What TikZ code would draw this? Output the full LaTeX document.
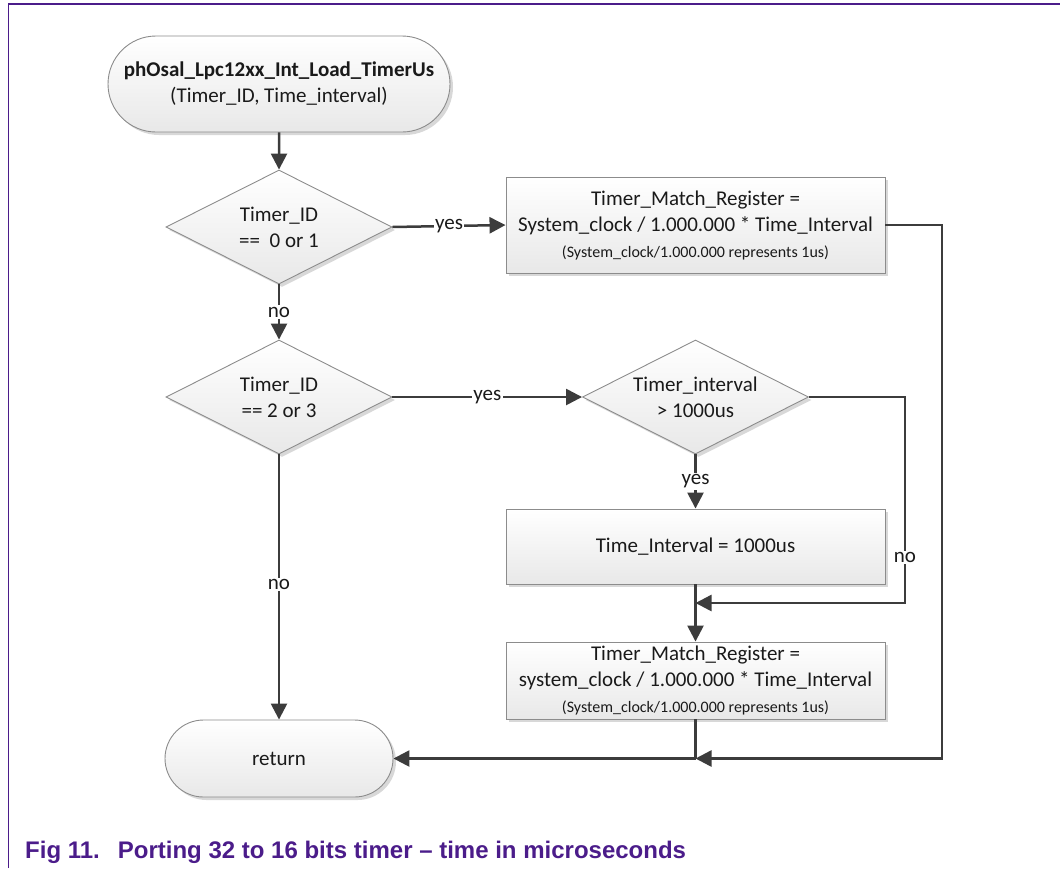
\documentclass[tikz,border=0pt]{standalone}
\usepackage{fontspec}
\setmainfont{Carlito}
\newfontfamily\capfont{Liberation Sans}
\usetikzlibrary{shapes.geometric,shapes.misc,arrows.meta,shadows}
\definecolor{framepurple}{HTML}{4B1C8A}
\definecolor{linegray}{HTML}{3C3C3C}
\definecolor{edgegray}{HTML}{8C8C8C}
\definecolor{textgray}{HTML}{1A1A1A}
\newcommand{\smalltxt}{\fontsize{16}{20}\selectfont}
\begin{document}
\begin{tikzpicture}[x=1pt,y=-1pt,
  font=\fontsize{21}{26}\selectfont, text=textgray,
  shapebase/.style={draw=edgegray, line width=0.9pt, top color=white, bottom color=black!9,
    drop shadow={shadow xshift=3pt, shadow yshift=-3pt, fill=black!30, opacity=0.5},
    align=center, inner sep=0pt},
  procbox/.style={shapebase, rectangle, minimum width=379pt},
  termbox/.style={shapebase, rounded rectangle},
  decbox/.style={shapebase, diamond, aspect=2, minimum width=226pt, minimum height=114pt},
  flow/.style={draw=linegray, line width=2.5pt},
  tip/.style={flow, -{Triangle[length=16pt,width=16pt]}},
  lbl/.style={fill=white, inner sep=1.5pt, text=textgray}
]
\useasboundingbox (0,0) rectangle (1060,868);

% page frame
\draw[framepurple, line width=1.3pt] (8.5,868) -- (8.5,4) -- (1060,4);

% flowchart nodes
\node[termbox, minimum width=342pt, minimum height=96pt] (start) at (279,84)
  {\textbf{phOsal\_Lpc12xx\_Int\_Load\_TimerUs}\\(Timer\_ID, Time\_interval)};
\node[decbox] (d1) at (279,227) {Timer\_ID\\==\ \ 0 or 1};
\node[procbox, minimum height=96pt] (b1) at (695.5,225)
  {Timer\_Match\_Register =\\System\_clock / 1.000.000 * Time\_Interval\\
   {\smalltxt (System\_clock/1.000.000 represents 1us)}};
\node[decbox] (d2) at (279,397) {Timer\_ID\\== 2 or 3};
\node[decbox] (d3) at (695.5,397) {Timer\_interval\\> 1000us};
\node[procbox, minimum height=75pt] (b2) at (695.5,546.5) {Time\_Interval = 1000us};
\node[procbox, minimum height=77pt] (b3) at (695.5,680.5)
  {Timer\_Match\_Register =\\system\_clock / 1.000.000 * Time\_Interval\\
   {\smalltxt (System\_clock/1.000.000 represents 1us)}};
\node[termbox, minimum width=228pt, minimum height=77pt] (ret) at (279,758.5) {return};

% junction points
\coordinate (j1) at (695.5,603);
\coordinate (j2) at (695.5,758.5);
\coordinate (c1) at (905,397);
\coordinate (c2) at (942,225);

% connectors
\draw[tip] (start) -- (d1);
\draw[tip] (d1.east) -- node[lbl] {yes} (b1.west);
\draw[tip] (d1.south) -- node[lbl] {no} (d2.north);
\draw[tip] (d2.east) -- node[lbl] {yes} (d3.west);
\draw[tip] (d3.south) -- node[lbl] {yes} (b2.north);
\draw[tip] (b2.south) -- (b3.north);
\draw[tip] (d3.east) -- (c1) -- node[lbl, pos=0.78] {no} (c1 |- j1) -- (j1);
\draw[tip] (d2.south) -- node[lbl, pos=0.49] {no} (ret.north);
\draw[tip] (b1.east) -- (c2) -- (c2 |- j2) -- (j2);
\draw[flow] (b3.south) -- (j2);
\draw[tip] (j2) -- (ret.east);

% caption
\node[anchor=base west, font=\capfont\bfseries\fontsize{24}{28}\selectfont, text=framepurple, inner sep=0pt]
  (caption) at (25,858) {Fig 11.\hspace{18pt}Porting 32 to 16 bits timer – time in microseconds};
\end{tikzpicture}
\end{document}
